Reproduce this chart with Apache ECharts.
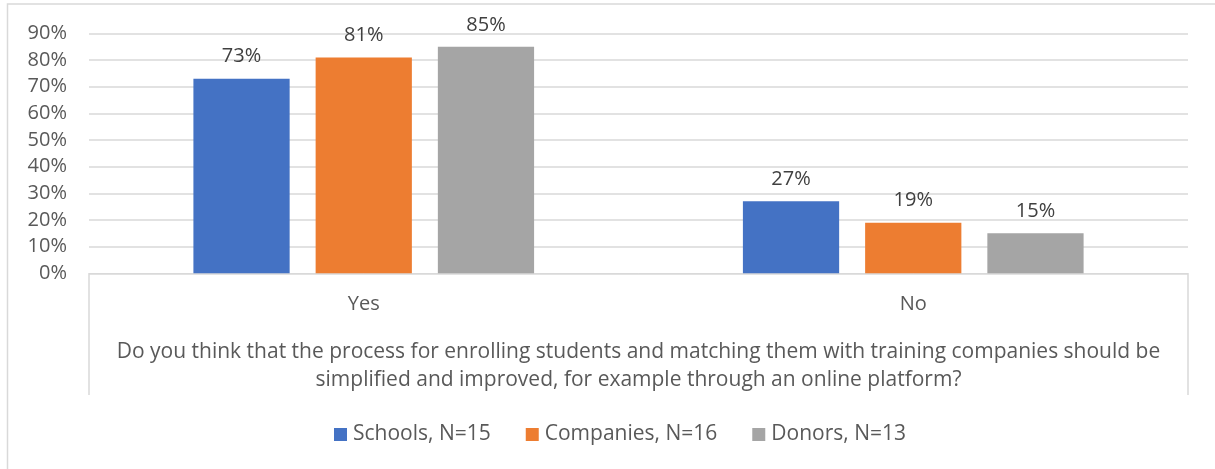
<!DOCTYPE html>
<html>
<head>
<meta charset="utf-8">
<script src="https://cdn.jsdelivr.net/npm/echarts@6/dist/echarts.min.js"></script>
<style>
  html, body { margin: 0; padding: 0; background: #ffffff; }
  #chart { width: 1215px; height: 469px; }
</style>
</head>
<body>
<div id="chart"></div>
<script>
// Answer categories and share of respondents per group (%)
const categories = ['Yes', 'No'];
const schools = [73, 27];
const companies = [81, 19];
const donors = [85, 15];
const seriesNames = ['Schools, N=15', 'Companies, N=16', 'Donors, N=13'];
const axisTitle = 'Do you think that the process for enrolling students and matching them with training companies should be\nsimplified and improved, for example through an online platform?';

const FONT = '"Open Sans", "Noto Sans", sans-serif';
const colors = ['#4472C4', '#ED7D31', '#A5A5A5'];

const chart = echarts.init(document.getElementById('chart'), null, { renderer: 'canvas' });

function barSeries(name, data, color) {
  return {
    name: name,
    type: 'bar',
    data: data,
    barGap: '27%',
    barCategoryGap: '38%',
    itemStyle: { color: color },
    label: {
      show: true,
      position: 'top',
      distance: 12,
      formatter: p => p.value + '%',
      color: '#404040',
      fontFamily: FONT,
      fontSize: 20
    },
    emphasis: { disabled: true }
  };
}

const gridLeft = 89, gridRight = 1188, gridTop = 33.5, gridBottom = 273.3, boxBottom = 395;

chart.setOption({
  animation: false,
  backgroundColor: '#ffffff',
  textStyle: { fontFamily: FONT },
  grid: {
    left: gridLeft,
    right: 1215 - gridRight,
    top: gridTop,
    bottom: 469 - gridBottom
  },
  legend: {
    data: seriesNames,
    left: 334,
    top: 424,
    padding: 0,
    itemWidth: 13,
    itemHeight: 13,
    itemGap: 35,
    icon: 'rect',
    textStyle: { color: '#595959', fontFamily: FONT, fontSize: 21, padding: [0, 0, 0, 1] }
  },
  xAxis: {
    type: 'category',
    data: categories,
    axisLine: { show: true, lineStyle: { color: '#D9D9D9', width: 1 } },
    axisTick: { show: false },
    axisLabel: { color: '#595959', fontFamily: FONT, fontSize: 20, margin: 21 },
    name: axisTitle,
    nameLocation: 'middle',
    nameGap: 65,
    nameTextStyle: { color: '#595959', fontFamily: FONT, fontSize: 21, lineHeight: 28 }
  },
  yAxis: {
    type: 'value',
    min: 0,
    max: 90,
    interval: 10,
    axisLine: { show: false },
    axisTick: { show: false },
    axisLabel: { formatter: '{value}%', color: '#595959', fontFamily: FONT, fontSize: 20, margin: 22 },
    splitLine: { lineStyle: { color: '#D9D9D9', width: 1.5 } }
  },
  graphic: [
    // outer chart frame
    { type: 'rect', shape: { x: 7.5, y: 4, width: 1300, height: 600 }, style: { fill: 'none', stroke: '#D9D9D9', lineWidth: 1.5 }, silent: true },
    // sides of the category axis box
    { type: 'line', shape: { x1: gridLeft, y1: gridBottom, x2: gridLeft, y2: boxBottom }, style: { stroke: '#D9D9D9', lineWidth: 1.5 }, silent: true },
    { type: 'line', shape: { x1: gridRight, y1: gridBottom, x2: gridRight, y2: boxBottom }, style: { stroke: '#D9D9D9', lineWidth: 1.5 }, silent: true }
  ],
  series: [
    barSeries(seriesNames[0], schools, colors[0]),
    barSeries(seriesNames[1], companies, colors[1]),
    barSeries(seriesNames[2], donors, colors[2])
  ]
});
</script>
</body>
</html>
